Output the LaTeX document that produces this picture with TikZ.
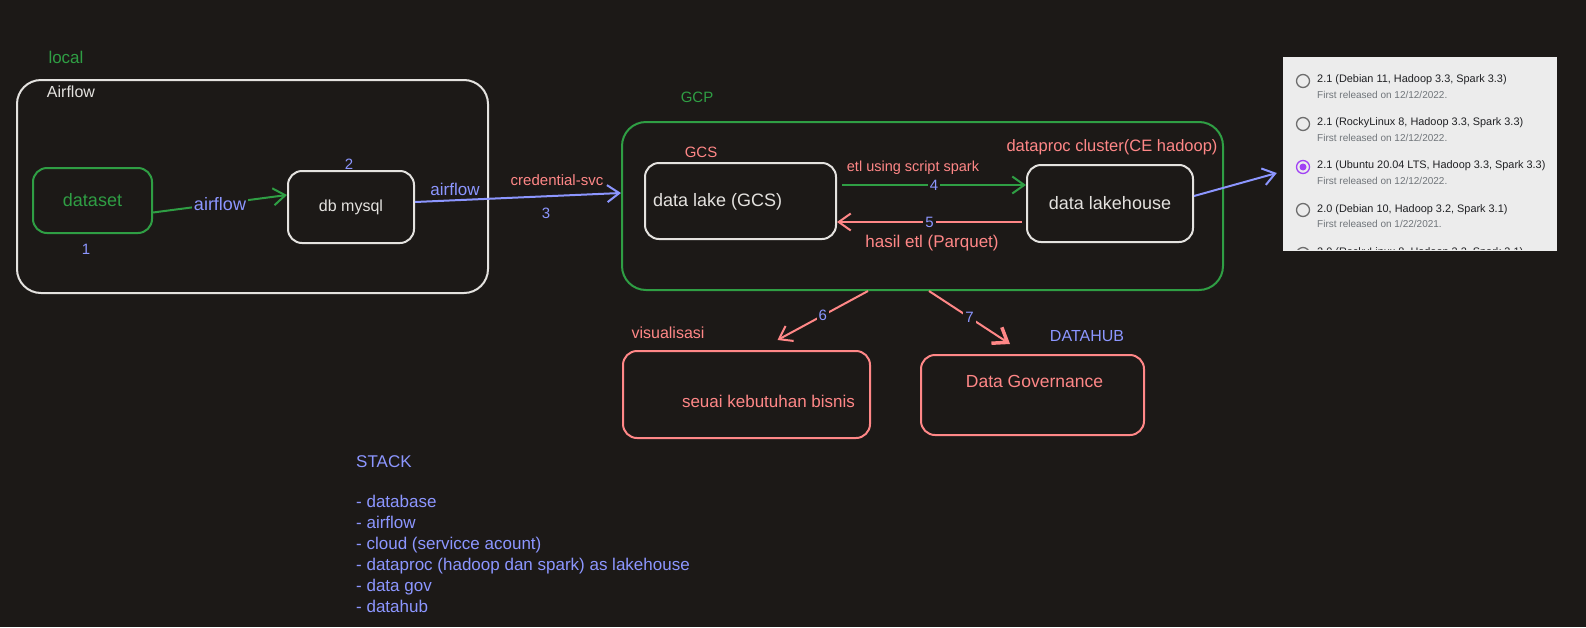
\documentclass[tikz,border=0pt]{standalone}
\usepackage{fontspec}
\setmainfont{Liberation Sans}
\usetikzlibrary{arrows.meta}
\definecolor{bg}{HTML}{1C1917}
\definecolor{exgreen}{HTML}{2F9E44}
\definecolor{exred}{HTML}{FF8787}
\definecolor{exblue}{HTML}{8C96FF}
\definecolor{exwhite}{HTML}{E4E2DF}
\definecolor{panelbg}{HTML}{ECECEC}
\definecolor{paneltxt}{HTML}{202124}
\definecolor{panelsub}{HTML}{70757A}
\definecolor{radio}{HTML}{6E6E6E}
\definecolor{radiosel}{HTML}{A142F4}
\newcommand{\fsz}[1]{\fontsize{#1}{#1}\selectfont}
\begin{document}
\begin{tikzpicture}[x=1pt,y=-1pt,
  box/.style={draw, line width=2pt, rounded corners=14pt, inner sep=0pt},
  bigbox/.style={draw, line width=2pt, rounded corners=24pt, inner sep=0pt},
  arr/.style={line width=2pt, -{Straight Barb[length=12pt,width=17pt,line width=2pt]}},
  lbl/.style={inner sep=1pt},
  gap/.style={fill=bg, inner sep=2pt},
  radiobtn/.style={circle, draw=radio, line width=1.3pt, minimum size=13pt, inner sep=0pt},
  ptitle/.style={anchor=west, text=paneltxt, font=\fsz{10.9}, inner sep=0pt},
  psub/.style={anchor=west, text=panelsub, font=\fsz{10}, inner sep=0pt}
]
\fill[bg] (0,0) rectangle (1586,627);
\useasboundingbox (0,0) rectangle (1586,627);

% local / Airflow
\node[lbl, text=exgreen, font=\fsz{17}] (local) at (66,57) {local};
\node[bigbox, draw=exwhite, minimum width=471pt, minimum height=213pt] (airflowbox) at (252.5,186.5) {};
\node[lbl, text=exwhite, font=\fsz{16}] (airflowlbl) at (71,92) {Airflow};
\node[box, draw=exgreen, text=exgreen, font=\fsz{18}, minimum width=119pt, minimum height=65pt] (dataset) at (92.5,200.5) {dataset};
\node[lbl, text=exblue, font=\fsz{15}] (n1) at (86,249) {1};
\node[box, draw=exwhite, text=exwhite, font=\fsz{16}, minimum width=126pt, minimum height=72pt] (mysql) at (351,207) {db mysql};
\node[lbl, text=exblue, font=\fsz{15}] (n2) at (349,164) {2};

\draw[arr, exgreen] ([yshift=-12pt]dataset.east) -- node[gap, text=exblue, font=\fsz{18}] (afl1) {airflow} ([yshift=12pt]mysql.west);

% GCP
\node[lbl, text=exgreen, font=\fsz{15}] (gcplbl) at (697,97) {GCP};
\node[bigbox, draw=exgreen, minimum width=601pt, minimum height=168pt] (gcp) at (922.5,206) {};
\node[lbl, text=exred, font=\fsz{15}] (gcslbl) at (701,152) {GCS};
\node[box, draw=exwhite, minimum width=191pt, minimum height=76pt] (lake) at (740.5,201) {};
\node[lbl, anchor=west, text=exwhite, font=\fsz{18}] (laketxt) at (652,202) {data lake (GCS)};
\node[lbl, text=exred, font=\fsz{16.5}] (dplbl) at (1112,147) {dataproc cluster(CE hadoop)};
\node[box, draw=exwhite, text=exwhite, font=\fsz{18}, minimum width=166pt, minimum height=77pt] (lakehouse) at (1110,203.5) {data lakehouse};

\draw[arr, exblue] ([yshift=5pt]mysql.east) -- ([yshift=13pt]gcp.west);
\node[lbl, text=exblue, font=\fsz{17}] (afl2) at (455,189) {airflow};
\node[lbl, text=exred, font=\fsz{15}] (cred) at (557,180) {credential-svc};
\node[lbl, text=exblue, font=\fsz{15}] (n3) at (546,213) {3};

\draw[arr, exgreen] ([xshift=5pt,yshift=16pt]lake.east) -- node[gap, text=exblue, font=\fsz{15}] (n4) {4} ([yshift=18.5pt]lakehouse.west);
\node[lbl, text=exred, font=\fsz{14.5}] (etl) at (913,168) {etl using script spark};
\draw[arr, exred] ([xshift=-4pt,yshift=-18.5pt]lakehouse.west) -- node[gap, text=exblue, font=\fsz{15}] (n5) {5} ([yshift=-21pt]lake.east);
\node[lbl, text=exred, font=\fsz{17}] (hasil) at (932,243) {hasil etl (Parquet)};

% screenshot panel
\node[fill=panelbg, minimum width=274pt, minimum height=194pt, inner sep=0pt] (panel) at (1420,154) {};
\draw[arr, exblue] ([yshift=7.5pt]lakehouse.east) -- ([xshift=-6pt,yshift=-19pt]panel.west);
\begin{scope}
\clip (1283,57) rectangle (1557,249);
\node[radiobtn] (r1) at (1303,81) {};
\node[ptitle] (t1) at (1317,80) {2.1 (Debian 11, Hadoop 3.3, Spark 3.3)};
\node[psub] (s1) at (1317,95) {First released on 12/12/2022.};
\node[radiobtn] (r2) at (1303,124) {};
\node[ptitle] (t2) at (1317,123) {2.1 (RockyLinux 8, Hadoop 3.3, Spark 3.3)};
\node[psub] (s2) at (1317,138) {First released on 12/12/2022.};
\node[radiobtn, draw=radiosel] (r3) at (1303,167) {};
\fill[radiosel] (r3.center) circle (3.5pt);
\node[ptitle] (t3) at (1317,166) {2.1 (Ubuntu 20.04 LTS, Hadoop 3.3, Spark 3.3)};
\node[psub] (s3) at (1317,181) {First released on 12/12/2022.};
\node[radiobtn] (r4) at (1303,210) {};
\node[ptitle] (t4) at (1317,210) {2.0 (Debian 10, Hadoop 3.2, Spark 3.1)};
\node[psub] (s4) at (1317,224) {First released on 1/22/2021.};
\node[radiobtn] (r5) at (1303,254) {};
\node[ptitle] (t5) at (1317,253) {2.0 (RockyLinux 8, Hadoop 3.2, Spark 3.1)};
\end{scope}

% bottom
\node[lbl, text=exred, font=\fsz{16}] (vislbl) at (668,333) {visualisasi};
\node[box, draw=exred, minimum width=247pt, minimum height=87pt] (visual) at (746.5,394.5) {};
\node[lbl, text=exred, font=\fsz{17}] (vistxt) at (768.5,401) {seuai kebutuhan bisnis};
\node[lbl, text=exblue, font=\fsz{16}] (datahub) at (1087,336) {DATAHUB};
\node[box, draw=exred, minimum width=223pt, minimum height=80pt] (gov) at (1032.5,395) {};
\node[lbl, text=exred, font=\fsz{17.5}] (govtxt) at (1034.5,381) {Data Governance};

\draw[arr, exred] ([xshift=-54.5pt]gcp.south) -- node[gap, text=exblue, font=\fsz{15}] (n6) {6} ([xshift=31pt,yshift=10pt]visual.north);
\draw[line width=2pt, exred, -{Straight Barb[length=13pt,width=19pt,line width=3.5pt]}] ([xshift=6.5pt]gcp.south) -- node[gap, text=exblue, font=\fsz{15}] (n7) {7} ([xshift=-22.5pt,yshift=10pt]gov.north);

% stack
\node[anchor=west, text=exblue, font=\fsz{17}, inner sep=0pt] (stacktitle) at (356,462) {STACK};
\node[anchor=north west, align=left, text=exblue, font=\fontsize{17}{21}\selectfont, inner sep=0pt] (stack) at (356,495) {- database\\
- airflow\\
- cloud (servicce acount)\\
- dataproc (hadoop dan spark) as lakehouse\\
- data gov\\
- datahub};
\end{tikzpicture}
\end{document}
